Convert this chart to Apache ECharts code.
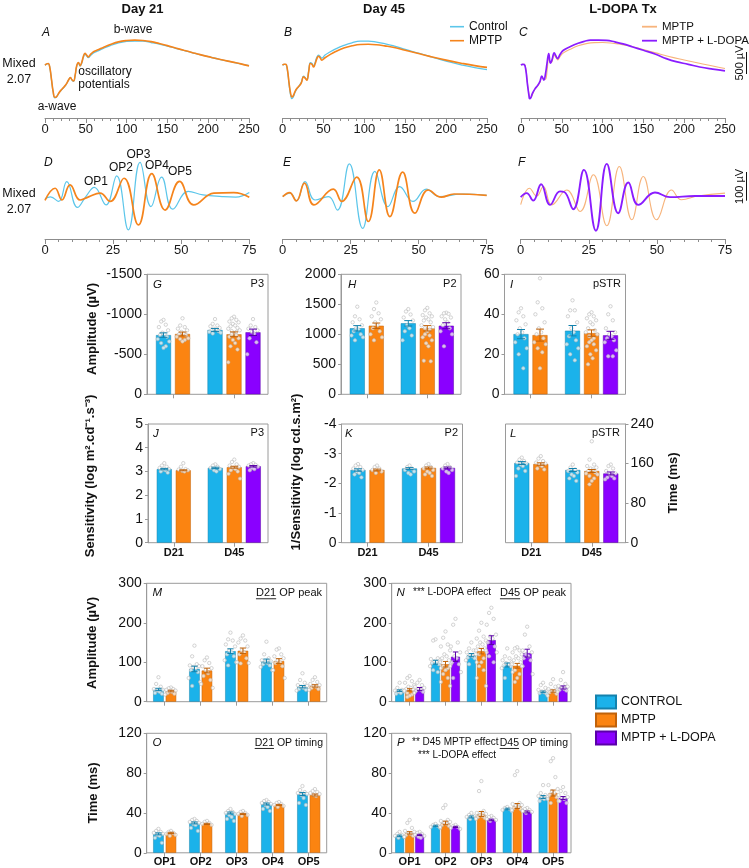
<!DOCTYPE html>
<html><head><meta charset="utf-8">
<script src="https://cdn.jsdelivr.net/npm/echarts@6/dist/echarts.min.js"></script>
<style>html,body{margin:0;padding:0;background:#fff}#c{width:749px;height:868px}</style>
</head><body><div id="c"></div><script>
const FONT = '"Liberation Sans", Arial, Helvetica, sans-serif';
const TREAT = ['CONTROL', 'MPTP', 'MPTP + L-DOPA'];
const TREAT_COLORS = ['#1bb2ea', '#fb8411', '#8a00ff'];
const TREAT_EDGE = ['#1482ad', '#c0620a', '#5a00a8'];
const columnTitles = ['Day 21', 'Day 45', 'L-DOPA Tx'];
const dayGroups = ['D21', 'D45'];
const opGroups = ['OP1', 'OP2', 'OP3', 'OP4', 'OP5'];
const traceTicksA = {max: 250, interval: 50};
const traceTicksD = {max: 75, interval: 25};

// ---------- ERG mixed 2.07 waveforms [ms, µV]
const ergD21Control = [[0,0],[2,28],[4,36],[6,-70],[8,-340],[10,-610],[12,-740],[14,-725],[17,-635],[20,-565],[23,-505],[26,-435],[29,-335],[31,-285],[33,-335],[35,-365],[37,-225],[39,-10],[41,50],[43,-20],[45,45],[47,180],[49,250],[51,215],[53,170],[56,225],[60,285],[65,325],[72,385],[80,445],[90,505],[100,540],[110,550],[120,545],[130,515],[140,480],[150,435],[160,385],[170,338],[180,288],[190,238],[200,193],[215,128],[230,68],[240,28],[250,-12]];
const ergD21Mptp = [[0,0],[2,30],[4,40],[6,-60],[8,-330],[10,-600],[12,-730],[14,-720],[17,-630],[20,-560],[23,-500],[26,-430],[29,-330],[31,-280],[33,-330],[35,-360],[37,-220],[39,0],[41,60],[43,-10],[45,60],[47,200],[49,270],[51,230],[53,190],[56,250],[60,310],[65,350],[72,410],[80,470],[90,530],[100,560],[110,570],[120,562],[130,535],[140,492],[150,445],[160,392],[170,340],[180,290],[190,240],[200,195],[215,130],[230,70],[240,30],[250,-15]];
const ergD45Control = [[0,0],[2,20],[4,15],[6,-110],[8,-430],[10,-690],[11.5,-760],[13,-730],[15,-630],[17.5,-540],[20,-480],[23,-390],[25.7,-250],[28,-290],[29.8,-330],[32,-130],[34,60],[36,40],[38,-20],[40,70],[42,180],[44,230],[46,200],[48,160],[52,230],[58,300],[65,370],[75,450],[85,510],[95,545],[105,548],[115,525],[125,490],[135,445],[150,360],[165,280],[180,200],[200,90],[220,0],[235,-55],[250,-100]];
const ergD45Mptp = [[0,0],[2,20],[4,20],[6,-100],[8,-400],[10,-650],[11.5,-720],[13,-700],[15,-610],[17.5,-530],[20,-480],[23,-400],[25.7,-265],[28,-300],[29.8,-340],[32,-150],[34,40],[36,20],[38,-40],[40,40],[42,150],[44,205],[46,170],[48,115],[52,170],[58,240],[65,310],[75,390],[85,440],[95,470],[105,475],[115,465],[125,440],[135,410],[150,340],[165,270],[180,200],[200,115],[220,40],[235,-10],[250,-50]];
const ergTxMptp = [[0,0],[2,20],[4,20],[6,-100],[8,-420],[10,-680],[11,-740],[13,-710],[15,-620],[17.5,-530],[20,-480],[23,-400],[25.7,-270],[28,-310],[30,-320],[32,-120],[34,180],[36,60],[38,80],[40.5,230],[43,170],[45,120],[48,200],[52,280],[60,360],[70,440],[80,490],[90,512],[100,515],[110,505],[120,480],[135,430],[150,355],[165,280],[180,205],[200,120],[220,40],[235,-20],[250,-75]];
const ergTxLdopa = [[0,0],[2,20],[4,15],[6,-120],[8,-450],[10,-720],[10.5,-760],[12,-740],[14,-640],[17.4,-530],[20,-470],[23,-380],[25.5,-250],[28,-340],[30,-200],[32,60],[34,265],[36,45],[38,120],[40.7,280],[42.5,220],[44.8,150],[48,250],[52,340],[60,420],[70,500],[78,545],[85,570],[95,570],[105,565],[115,530],[125,485],[137,415],[150,340],[165,250],[178,150],[190,80],[205,20],[219,-40],[235,-90],[250,-130]];

// ---------- Oscillatory potentials [ms, µV]
const opD21Control = [[0,0],[2,7],[5,-9],[8,60],[11.9,-30],[15,8],[18.1,40],[22.4,-21],[26.3,80],[30.6,-108],[34.9,127],[38.9,-27],[42.8,76],[46.9,-36],[52.6,26],[58,14],[65,8],[70,6],[75,22]];
const opD21Mptp = [[0,-5],[3.7,37],[6.2,-4],[9.2,49],[12.9,-4],[16,7],[20.2,20],[23.9,-9],[29,72],[34.3,-91],[39.2,88],[44.1,-39],[49.4,61],[54.6,-21],[62,20],[69.3,22],[75,6]];
const opD45Control = [[0,8],[2.7,20],[5.1,-7],[8.2,60],[11.9,-4],[16.8,8],[20.1,-39],[24.5,122],[29.4,-103],[33.9,96],[38.7,-27],[43,43],[47.9,-9],[52.8,34],[57.6,8],[66.2,17],[75,12]];
const opD45Mptp = [[0,8],[2.5,22],[5,-7],[8,55],[11.5,-21],[18.6,34],[21.7,-9],[27.2,76],[31.5,-79],[35.5,101],[39.4,-62],[44.1,93],[48.6,-50],[53.5,31],[58.3,6],[63,17],[75,12]];
const opTxMptp = [[0,-20],[3.2,37],[5.9,10],[8.3,43],[11.4,-21],[16.9,31],[21.8,-44],[26.7,84],[31.6,-94],[36.2,113],[40.8,-73],[45,78],[49.9,-73],[55.4,31],[59,-3],[65,10],[75,20]];
const opTxLdopa = [[0,6],[2.2,20],[4.6,-6],[7.5,51],[10.8,-21],[14.4,26],[16,24],[19.3,-36],[23.2,101],[27.6,-111],[31.6,122],[35.8,-50],[39.5,57],[43.2,-21],[49.3,22],[54.8,6],[64,10],[75,10]];

// ---------- G: P3 amplitude (µV)
const p3AmpControl = [-740, -804];
const p3AmpMptp = [-754, -750];
const p3AmpLdopa = [null, -775];
const p3AmpSem = [[28, 18], [24, 30], [null, 40]];
const p3AmpDots = [
  [[-930,-910,-870,-840,-800,-770,-755,-740,-720,-690,-660,-640,-600,-580],[-940,-880,-860,-850,-830,-820,-810,-800,-790,-780,-770,-760]],
  [[-950,-860,-840,-820,-800,-780,-760,-750,-740,-720,-700,-690,-680,-660],[-970,-950,-930,-910,-900,-880,-860,-850,-830,-820,-800,-790,-780,-760,-750,-740,-720,-700,-680,-640,-600,-560,-400]],
  [null,[-940,-860,-840,-820,-800,-780,-760,-700,-650,-500]]];
// ---------- H: P2 amplitude (µV)
const p2AmpControl = [1100, 1183];
const p2AmpMptp = [1143, 1100];
const p2AmpLdopa = [null, 1143];
const p2AmpSem = [[45, 45], [45, 45], [null, 50]];
const p2AmpDots = [
  [[1460,1300,1250,1200,1150,1100,1080,1050,1000,980,950,900],[1420,1380,1330,1280,1230,1150,1100,1050,980,900]],
  [[1530,1420,1350,1300,1250,1200,1150,1100,1050,1000,950,900],[1440,1400,1350,1320,1300,1280,1250,1230,1200,1150,1120,1100,1080,1050,1000,980,950,900,850,800,560,550]],
  [null,[1360,1350,1340,1300,1280,1250,1200,1150,1100,1050,1000,800]]];
// ---------- I: pSTR amplitude (µV)
const pstrAmpControl = [30.1, 31.8];
const pstrAmpMptp = [29.6, 30.6];
const pstrAmpLdopa = [null, 29.5];
const pstrAmpSem = [[2.3, 2.6], [3.0, 1.6], [null, 2.0]];
const pstrAmpDots = [
  [[43,41,39,37,35,33,31,30,28,26,23,20,13],[47,42,42,39,36,33,31,29,27,25,23,20,17]],
  [[58,46,43,40,36,33,31,30,28,26,25,23,21,13],[41,40,39,38,37,36,35,33,32,31,30,29,28,27,26,25,24,22,20,18,15]],
  [null,[44,40,37,33,31,30,29,28,27,26,22,19,19]]];
// ---------- J: P3 sensitivity
const p3SensControl = [3.1, 3.15];
const p3SensMptp = [3.05, 3.18];
const p3SensLdopa = [null, 3.22];
const p3SensSem = [[0.03, 0.03], [0.02, 0.04], [null, 0.03]];
const p3SensDots = [
  [[3.35,3.25,3.2,3.15,3.1,3.08,3.05,3.0,2.95],[3.3,3.25,3.2,3.15,3.1,3.05,3.0]],
  [[3.35,3.2,3.1,3.08,3.05,3.03,3.0],[3.5,3.4,3.3,3.25,3.2,3.15,3.1,3.05,3.0,2.9,2.7]],
  [null,[3.35,3.3,3.28,3.25,3.2,3.15,3.1,3.05]]];
// ---------- K: P2 1/sensitivity
const p2SensControl = [-2.45, -2.5];
const p2SensMptp = [-2.45, -2.52];
const p2SensLdopa = [null, -2.52];
const p2SensSem = [[0.04, 0.03], [0.03, 0.03], [null, 0.03]];
const p2SensDots = [
  [[-2.65,-2.6,-2.55,-2.5,-2.45,-2.4,-2.35,-2.3,-2.2],[-2.6,-2.55,-2.5,-2.45,-2.4,-2.35,-2.3]],
  [[-2.6,-2.55,-2.5,-2.45,-2.4,-2.35],[-2.65,-2.6,-2.55,-2.5,-2.45,-2.4,-2.35,-2.3,-2.25]],
  [null,[-2.65,-2.6,-2.55,-2.5,-2.45,-2.4,-2.35]]];
// ---------- L: pSTR timing (ms)
const pstrTimeControl = [161, 147];
const pstrTimeMptp = [159, 145];
const pstrTimeLdopa = [null, 140];
const pstrTimeSem = [[3, 3], [2.5, 3], [null, 3]];
const pstrTimeDots = [
  [[172,168,165,162,160,158,155,150,145,135],[158,152,148,145,142,138,135,130,125]],
  [[175,170,165,162,160,158,155,150,148],[205,168,158,155,152,150,148,145,142,140,138,135,130,125,118]],
  [null,[158,155,150,145,140,138,135,132,130,128]]];
// ---------- M: D21 OP peak (µV)
const d21OpAmpControl = [31, 83, 128, 103, 38];
const d21OpAmpMptp = [27, 79, 129, 103, 40];
const d21OpAmpSem = [[3, 7, 6, 5, 3], [2, 6, 7, 6, 3]];
const d21OpAmpDots = [
  [[62,45,38,32,30,28,25,22,20],[142,115,95,92,90,88,85,80,75,60,50,40],[175,158,155,145,140,130,125,120,115,105,100,92],[152,120,110,105,102,100,98,95,92,88,80],[72,55,48,42,40,38,35,32,30,28]],
  [[36,34,32,30,28,26,25,22,20,18],[112,105,98,90,85,80,72,65,55,45,35],[168,160,155,150,140,130,125,120,110,100,98,97],[135,132,120,115,110,105,100,98,90,80,60],[62,55,50,45,42,40,38,35,32,30]]];
// ---------- N: D45 OP peak (µV)
const d45OpAmpControl = [28, 100, 118, 93, 25];
const d45OpAmpMptp = [30, 95, 128, 91, 27];
const d45OpAmpLdopa = [32, 114, 156, 123, 36];
const d45OpAmpSem = [[2, 5, 4, 5, 2], [3, 7, 7, 6, 3], [4, 12, 11, 10, 4]];
const d45OpAmpDots = [
  [[48,35,30,28,26,25,22,20],[158,155,110,108,105,102,100,98,95,90,85,80,75],[150,135,130,125,120,118,115,112,110,105,100,95],[135,115,110,105,100,98,95,92,90,85,75,60],[48,42,35,30,28,26,24,22,20]],
  [[65,60,52,48,42,38,35,32,30,28,25,22,18,15,12],[178,162,145,140,130,120,115,110,105,100,95,90,85,80,70,60,50,40],[200,180,165,160,155,150,145,140,135,130,125,120,110,100,90,80,60,40],[138,135,130,125,120,115,110,105,100,95,90,80,70,60,50],[57,45,38,32,30,28,26,24,20,15]],
  [[55,48,42,38,35,32,30,28,25,22],[210,195,150,140,125,115,110,100,95,90,75,60],[238,225,210,195,170,165,160,150,140,130,125,115,100],[190,170,140,130,125,120,115,110,105,90,70],[75,55,45,40,38,35,32,30,28,25]]];
// ---------- O: D21 OP timing (ms)
const d21OpTimeControl = [19, 30, 40, 49, 59];
const d21OpTimeMptp = [20, 29, 39, 48, 58];
const d21OpTimeSem = [[1, 1, 1, 1, 1.5], [0.6, 0.6, 0.6, 0.6, 1]];
const d21OpTimeDots = [
  [[24,22,21,20,19,18,17,15,10],[34,33,32,31,30,29,28,25,22],[44,42,41,40,39,38,36,34,32],[53,52,51,50,49,48,46,44,42],[67,63,61,60,59,58,55,50,48]],
  [[22,21,20,19,18,17],[32,31,30,29,28],[42,41,40,39,38,37],[51,50,49,48,47,46],[64,62,61,60,59,58,57]]];
// ---------- P: D45 OP timing (ms)
const d45OpTimeControl = [17, 27, 36, 44, 56];
const d45OpTimeMptp = [20, 30, 39, 47, 60];
const d45OpTimeLdopa = [18, 26, 33, 41, 55];
const d45OpTimeSem = [[0.8, 0.7, 1, 0.8, 1.5], [1.2, 1.8, 2.5, 2.5, 3], [0.6, 0.6, 0.8, 1, 1.5]];
const d45OpTimeDots = [
  [[21,19,18,17,16,15],[29,28,27,26,25],[40,38,37,36,35,34],[46,45,44,43,42],[68,60,58,57,56,55,54,52]],
  [[33,30,25,22,21,20,19,18,17,16],[48,45,33,32,31,30,29,28,27,26],[72,62,42,40,39,38,37,36,35,34],[82,78,50,49,48,47,46,45,44,43,42],[95,92,76,68,64,62,60,58,56,54,52,50]],
  [[21,20,19,18,17,16,15],[28,27,26,25,24],[37,36,35,34,33,32],[45,44,43,42,41,40],[66,62,60,58,56,55,54,52,50]]];

// ================= builders =================
const grids = [], xAxes = [], yAxes = [], series = [];
const AX = '#8c8c8c';

function tracePanel(box, ticks, yr, lines) {
  const gi = grids.length;
  grids.push({left: box.l, top: box.t, width: box.w, height: box.h, show: false, containLabel: false, outerBoundsMode: 'none'});
  xAxes.push({gridIndex: gi, type: 'value', min: 0, max: ticks.max, interval: ticks.interval,
    axisLine: {show: true, onZero: false, lineStyle: {color: AX, width: 1}},
    axisTick: {show: true, length: 5, lineStyle: {color: AX}},
    minorTick: {show: true, splitNumber: 5, length: 3, lineStyle: {color: AX}},
    splitLine: {show: false}, minorSplitLine: {show: false},
    axisLabel: {fontSize: 13, color: '#1a1a1a', fontFamily: FONT, margin: 5}});
  yAxes.push({gridIndex: gi, type: 'value', min: yr[0], max: yr[1], show: false, splitLine: {show: false}});
  lines.forEach(l => series.push({type: 'line', name: l.name, xAxisIndex: gi, yAxisIndex: gi, data: l.data,
    smooth: 0.45, symbol: 'none', showSymbol: false, color: l.color, itemStyle: {color: l.color},
    lineStyle: {color: l.color, width: l.width}, z: l.z || 2, silent: true}));
}

function jitterPx(j, barPx) {
  const pattern = [0, -1, 1, -2, 2, -0.5, 0.5, -1.5, 1.5, -2.5, 2.5, -1, 1];
  const lim = barPx / 2 + 1;
  const d = pattern[j % pattern.length] * 2.3;
  return Math.max(-lim, Math.min(lim, d));
}

function barPanel(o) {
  const gi = grids.length;
  grids.push({left: o.l, top: o.t, width: o.w, height: o.h, show: true, borderColor: '#9a9a9a', borderWidth: 1,
    backgroundColor: 'transparent', containLabel: false, outerBoundsMode: 'none'});
  const idx = o.groups.map((_, i) => i);
  xAxes.push({gridIndex: gi, type: 'value', min: o.xmin, max: o.xmax,
    axisLine: {show: false, onZero: false}, splitLine: {show: false},
    axisTick: {show: true, customValues: idx, length: 4, lineStyle: {color: '#9a9a9a'}},
    axisLabel: {show: !!o.xLabels, customValues: idx, formatter: v => o.groups[Math.round(v)] || '',
      fontSize: 11, fontWeight: 'bold', color: '#111', fontFamily: FONT, margin: o.xMargin || 5}});
  yAxes.push({gridIndex: gi, type: 'value', min: o.ymin, max: o.ymax, interval: o.yint, inverse: !!o.inverse,
    position: o.yPos || 'left',
    axisLine: {show: true, onZero: false, lineStyle: {color: '#9a9a9a'}},
    axisTick: {show: true, length: 3, lineStyle: {color: '#9a9a9a'}}, splitLine: {show: false},
    axisLabel: {fontSize: 14, color: '#111', fontFamily: FONT, margin: 5, formatter: v => String(v)}});
  const pxPerUnit = o.w / (o.xmax - o.xmin);
  const step = o.stepPx / pxPerUnit;
  const errData = [], dotData = [];
  o.means.forEach((arr, s) => {
    const data = [];
    arr.forEach((v, g) => {
      if (v == null) return;
      const present = o.means.map((a, i) => (a[g] != null ? i : -1)).filter(i => i >= 0);
      const k = present.indexOf(s);
      const x = g + (k - (present.length - 1) / 2) * step;
      data.push([x, v]);
      errData.push([x, v, o.sem[s][g], s]);
      const pts = (o.dots[s] && o.dots[s][g]) || [];
      pts.forEach((d, j) => dotData.push([x + jitterPx(j, o.barPx) / pxPerUnit, d]));
    });
    series.push({type: 'bar', name: TREAT[s], xAxisIndex: gi, yAxisIndex: gi, data, barWidth: o.barPx, barGap: '-100%',
      itemStyle: {color: TREAT_COLORS[s], borderColor: TREAT_EDGE[s], borderWidth: 0.5}, emphasis: {disabled: true}, silent: true, z: 2});
  });
  series.push({type: 'scatter', xAxisIndex: gi, yAxisIndex: gi, data: dotData, symbolSize: 3.4, silent: true, z: 3,
    itemStyle: {color: 'rgba(252,252,252,0.9)', borderColor: '#b4b4b4', borderWidth: 0.7}});
  series.push({type: 'custom', xAxisIndex: gi, yAxisIndex: gi, data: errData, silent: true, z: 4,
    encode: {x: 0, y: 1},
    renderItem: (params, api) => {
      const x = api.value(0), m = api.value(1), se = api.value(2), c = TREAT_EDGE[api.value(3)];
      const a = api.coord([x, m - se]), b = api.coord([x, m + se]);
      const cap = Math.min(4, o.barPx * 0.3);
      const st = {stroke: c, lineWidth: 1};
      return {type: 'group', children: [
        {type: 'line', shape: {x1: a[0], y1: a[1], x2: b[0], y2: b[1]}, style: st},
        {type: 'line', shape: {x1: a[0] - cap, y1: a[1], x2: a[0] + cap, y2: a[1]}, style: st},
        {type: 'line', shape: {x1: b[0] - cap, y1: b[1], x2: b[0] + cap, y2: b[1]}, style: st}]};
    }});
}

// ---- top traces (grids 0-5)
const LB = '#5cc6ea', OR = '#f5841c', ORL = '#f7b47c', PU = '#8a1cff';
tracePanel({l: 45, t: 30, w: 204, h: 88}, traceTicksA, [-1200, 800], [
  {name: 'Control trace', data: ergD21Control, color: LB, width: 1.3},
  {name: 'MPTP trace', data: ergD21Mptp, color: OR, width: 1.6, z: 3}]);
tracePanel({l: 282.5, t: 30, w: 204.5, h: 88}, traceTicksA, [-1200, 800], [
  {name: 'Control trace', data: ergD45Control, color: LB, width: 1.3},
  {name: 'MPTP trace', data: ergD45Mptp, color: OR, width: 1.6, z: 3}]);
tracePanel({l: 521, t: 30, w: 204, h: 88}, traceTicksA, [-1200, 800], [
  {name: 'MPTP trace C', data: ergTxMptp, color: ORL, width: 1.1},
  {name: 'MPTP + L-DOPA trace', data: ergTxLdopa, color: PU, width: 1.7, z: 3}]);
tracePanel({l: 45, t: 153, w: 204.3, h: 86}, traceTicksD, [-140, 160], [
  {name: 'Control trace', data: opD21Control, color: LB, width: 1.2},
  {name: 'MPTP trace', data: opD21Mptp, color: OR, width: 1.7, z: 3}]);
tracePanel({l: 282.7, t: 153, w: 204, h: 86}, traceTicksD, [-140, 160], [
  {name: 'Control trace', data: opD45Control, color: LB, width: 1.2},
  {name: 'MPTP trace', data: opD45Mptp, color: OR, width: 1.7, z: 3}]);
tracePanel({l: 520.7, t: 153, w: 204.3, h: 86}, traceTicksD, [-140, 160], [
  {name: 'MPTP trace C', data: opTxMptp, color: ORL, width: 1.1},
  {name: 'MPTP + L-DOPA trace', data: opTxLdopa, color: PU, width: 1.9, z: 3}]);

// ---- bar panels (grids 6-15)
const dayX = {xmin: -0.426, xmax: 1.557, barPx: 15, stepPx: 19, groups: dayGroups};
const opX2 = {xmin: -0.5, xmax: 4.5, barPx: 10.5, stepPx: 12.5, groups: opGroups};
const opX3 = {xmin: -0.5, xmax: 4.5, barPx: 8.8, stepPx: 10, groups: opGroups};
barPanel(Object.assign({l: 147, t: 274.3, w: 121, h: 120, ymin: -1500, ymax: 0, yint: 500, inverse: true,
  means: [p3AmpControl, p3AmpMptp, p3AmpLdopa], sem: p3AmpSem, dots: p3AmpDots}, dayX));
barPanel(Object.assign({l: 341, t: 274.3, w: 120, h: 120, ymin: 0, ymax: 2000, yint: 500,
  means: [p2AmpControl, p2AmpMptp, p2AmpLdopa], sem: p2AmpSem, dots: p2AmpDots}, dayX));
barPanel(Object.assign({l: 504.5, t: 274.3, w: 121, h: 120, ymin: 0, ymax: 60, yint: 20,
  means: [pstrAmpControl, pstrAmpMptp, pstrAmpLdopa], sem: pstrAmpSem, dots: pstrAmpDots}, dayX));
barPanel(Object.assign({l: 148, t: 424, w: 120, h: 118.7, ymin: 0, ymax: 5, yint: 1, xLabels: true,
  means: [p3SensControl, p3SensMptp, p3SensLdopa], sem: p3SensSem, dots: p3SensDots}, dayX));
barPanel(Object.assign({l: 341.5, t: 424, w: 121, h: 118.7, ymin: -4, ymax: 0, yint: 1, inverse: true, xLabels: true,
  means: [p2SensControl, p2SensMptp, p2SensLdopa], sem: p2SensSem, dots: p2SensDots}, dayX));
barPanel(Object.assign({l: 505.5, t: 424, w: 120, h: 118.7, ymin: 0, ymax: 240, yint: 80, yPos: 'right', xLabels: true,
  means: [pstrTimeControl, pstrTimeMptp, pstrTimeLdopa], sem: pstrTimeSem, dots: pstrTimeDots}, dayX));
barPanel(Object.assign({l: 146.7, t: 583.3, w: 180, h: 118.4, ymin: 0, ymax: 300, yint: 100,
  means: [d21OpAmpControl, d21OpAmpMptp], sem: d21OpAmpSem, dots: d21OpAmpDots}, opX2));
barPanel(Object.assign({l: 391.7, t: 583.3, w: 179.3, h: 118.4, ymin: 0, ymax: 300, yint: 100,
  means: [d45OpAmpControl, d45OpAmpMptp, d45OpAmpLdopa], sem: d45OpAmpSem, dots: d45OpAmpDots}, opX3));
barPanel(Object.assign({l: 146.7, t: 733.3, w: 180, h: 119.5, ymin: 0, ymax: 120, yint: 40, xLabels: true, xMargin: 4,
  means: [d21OpTimeControl, d21OpTimeMptp], sem: d21OpTimeSem, dots: d21OpTimeDots}, opX2));
barPanel(Object.assign({l: 391.7, t: 733.3, w: 179.3, h: 119.5, ymin: 0, ymax: 120, yint: 40, xLabels: true, xMargin: 4,
  means: [d45OpTimeControl, d45OpTimeMptp, d45OpTimeLdopa], sem: d45OpTimeSem, dots: d45OpTimeDots}, opX3));

const legendText = {fontSize: 12, fontFamily: FONT, color: '#111', lineHeight: 14};
const legends = [
  {left: 450, top: 19.7, orient: 'vertical', padding: 0, icon: 'rect', itemWidth: 14, itemHeight: 1.6, itemGap: 0,
    selectedMode: false, data: ['Control trace', 'MPTP trace'], formatter: n => n.replace(/ trace.*$/, ''), textStyle: legendText},
  {left: 642, top: 19.7, orient: 'vertical', padding: 0, icon: 'rect', itemWidth: 15, itemHeight: 1.8, itemGap: 0,
    selectedMode: false, data: ['MPTP trace C', 'MPTP + L-DOPA trace'], formatter: n => n.replace(/ trace.*$/, ''),
    textStyle: {fontSize: 11.5, fontFamily: FONT, color: '#111', lineHeight: 14}},
  {left: 595, top: 694.5, orient: 'vertical', padding: 0, icon: 'rect', itemWidth: 20, itemHeight: 13, itemGap: 3,
    selectedMode: false, data: TREAT, textStyle: {fontSize: 12.5, fontFamily: FONT, color: '#111', lineHeight: 14}}
];

const chart = echarts.init(document.getElementById('c'), null, {renderer: 'canvas', width: 749, height: 868});
chart.setOption({animation: false, textStyle: {fontFamily: FONT}, grid: grids, xAxis: xAxes, yAxis: yAxes, series, legend: legends});

// ---------- annotations
const mctx = document.createElement('canvas').getContext('2d');
function tw(text, size, weight) { mctx.font = (weight || 'normal') + ' ' + size + 'px ' + FONT; return mctx.measureText(text).width; }
function T(x, y, text, o) {
  o = o || {};
  const al = o.align || 'left';
  return {type: 'text', x, y, rotation: o.rot || 0, silent: true, z: 100,
    style: {text, x: 0, y: 0, fill: o.color || '#111', fontFamily: FONT, fontSize: o.size || 12,
      fontWeight: o.bold ? 'bold' : 'normal', fontStyle: o.italic ? 'italic' : 'normal',
      align: al, verticalAlign: 'middle', textAlign: al, textVerticalAlign: 'middle'}};
}
function L(x1, y1, x2, y2, c, w) { return {type: 'line', silent: true, z: 100, shape: {x1, y1, x2, y2}, style: {stroke: c || '#111', lineWidth: w || 1}}; }
function underlinedRight(xr, y, first, rest, size) {
  const full = first + rest;
  const x0 = xr - tw(full, size);
  return [T(xr, y, full, {size, align: 'right'}), L(x0, y + size * 0.55, x0 + tw(first, size), y + size * 0.55, '#111', 0.9)];
}
const R = Math.PI / 2;
const g = [];
g.push(T(142.5, 9, columnTitles[0], {size: 13, bold: true, align: 'center'}));
g.push(T(384, 9, columnTitles[1], {size: 13, bold: true, align: 'center'}));
g.push(T(623, 9, columnTitles[2], {size: 13, bold: true, align: 'center'}));
g.push(T(19, 64, 'Mixed', {size: 12.5, align: 'center'}), T(19, 80, '2.07', {size: 12.5, align: 'center'}));
g.push(T(19, 194, 'Mixed', {size: 12.5, align: 'center'}), T(19, 210, '2.07', {size: 12.5, align: 'center'}));
[['A', 42, 33], ['B', 284, 33], ['C', 519, 33], ['D', 44, 163], ['E', 283, 163], ['F', 518, 163]].forEach(a => g.push(T(a[1], a[2], a[0], {size: 12, italic: true})));
g.push(T(133, 30, 'b-wave', {size: 12, align: 'center'}), T(105, 71.5, 'oscillatory', {size: 12, align: 'center'}),
  T(104, 85, 'potentials', {size: 12, align: 'center'}), T(57, 106.5, 'a-wave', {size: 12, align: 'center'}));
[['OP1', 96, 181.5], ['OP2', 121, 167.5], ['OP3', 138.5, 155], ['OP4', 157, 166], ['OP5', 180, 171.5]].forEach(a => g.push(T(a[1], a[2], a[0], {size: 12, align: 'center'})));
[['G', 153, 284.3], ['H', 348, 284.3], ['I', 510, 284.3], ['J', 153, 433.3], ['K', 345, 433.3], ['L', 510, 433.3],
 ['M', 152.5, 592.7], ['N', 396.5, 592.7], ['O', 152.5, 742.7], ['P', 397, 742.7]].forEach(a => g.push(T(a[1], a[2], a[0], {size: 11.5, italic: true})));
[['P3', 264, 284.3], ['P2', 456.5, 284.3], ['pSTR', 621, 284.3], ['P3', 264, 433.3], ['P2', 458, 433.3], ['pSTR', 620, 433.3]].forEach(a => g.push(T(a[1], a[2], a[0], {size: 11, align: 'right'})));
g.push(...underlinedRight(322, 592.7, 'D21', ' OP peak', 11));
g.push(...underlinedRight(566, 592.7, 'D45', ' OP peak', 11));
g.push(...underlinedRight(323, 742.7, 'D21', ' OP timing', 10.5));
g.push(...underlinedRight(568, 742.7, 'D45', ' OP timing', 10.5));
g.push(T(413, 592.7, '*** L-DOPA effect', {size: 10}));
g.push(T(412, 742.7, '** D45 MPTP effect', {size: 10}), T(418, 755, '*** L-DOPA effect', {size: 10}));
g.push(T(92, 329, 'Amplitude (µV)', {size: 13, bold: true, align: 'center', rot: R}));
g.push(T(90, 476, 'Sensitivity (log m².cd⁻¹.s⁻³)', {size: 13, bold: true, align: 'center', rot: R}));
g.push(T(296, 472, '1/Sensitivity (log cd.s.m²)', {size: 13, bold: true, align: 'center', rot: R}));
g.push(T(673, 483, 'Time (ms)', {size: 13, bold: true, align: 'center', rot: R}));
g.push(T(92, 643, 'Amplitude (µV)', {size: 13, bold: true, align: 'center', rot: R}));
g.push(T(93, 793, 'Time (ms)', {size: 13, bold: true, align: 'center', rot: R}));
const sA = Math.abs(chart.convertToPixel({xAxisIndex: 2, yAxisIndex: 2}, [0, 0])[1] - chart.convertToPixel({xAxisIndex: 2, yAxisIndex: 2}, [0, 500])[1]);
const sD = Math.abs(chart.convertToPixel({xAxisIndex: 5, yAxisIndex: 5}, [0, 0])[1] - chart.convertToPixel({xAxisIndex: 5, yAxisIndex: 5}, [0, 100])[1]);
g.push(L(746.5, 52, 746.5, 52 + sA, '#111', 1), T(740, 52 + sA / 2, '500 µV', {size: 11, align: 'center', rot: R}));
g.push(L(746.5, 172, 746.5, 172 + sD, '#111', 1), T(740, 172 + sD / 2, '100 µV', {size: 11, align: 'center', rot: R}));
chart.setOption({graphic: {elements: g}});
</script></body></html>
